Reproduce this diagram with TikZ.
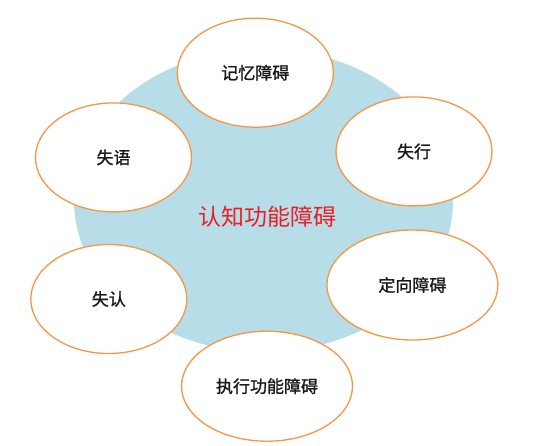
\documentclass[tikz,border=0pt]{standalone}
\usepackage{fontspec}
\newfontfamily\cjk[FakeBold=1.2]{Noto Sans CJK SC}
\newfontfamily\cjktitle{Noto Sans CJK SC}
\usepackage{tikz}
\usetikzlibrary{shapes}
\usepackage{xcolor}
\definecolor{light-blue}{RGB}{183,221,232}
\definecolor{ring-orange}{RGB}{247,150,70}
\definecolor{title-red}{RGB}{237,28,36}
\tikzstyle{deficit}=[ellipse, draw=ring-orange, line width=1.3pt, fill=white, inner sep=0pt, font=\cjk\fontsize{17}{20}\selectfont, text=black!90]
\tikzstyle{wide}=[minimum width=171pt, minimum height=110pt]
\tikzstyle{narrow}=[minimum width=156pt, minimum height=109pt]
\begin{document}
\begin{tikzpicture}[x=1pt,y=-1pt]
	\useasboundingbox (0,0) rectangle (553,445);
	\fill[light-blue] (263.5,200.5) ellipse (189.5pt and 151.5pt);
	\node[font=\cjktitle\fontsize{23}{26}\selectfont, text=title-red] (core) at (267.5,217) {认知功能障碍};
	\node[deficit,narrow] (memory) at (255.3,72.7) {记忆障碍};
	\node[deficit,narrow] (aphasia) at (113.5,157.4) {失语};
	\node[deficit,narrow] (apraxia) at (414,151.4) {失行};
	\node[deficit,narrow] (agnosia) at (108.8,299) {失认};
	\node[deficit,wide] (orient) at (412.4,285) {定向障碍};
	\node[deficit,wide] (exec) at (267,386.2) {执行功能障碍};
\end{tikzpicture}
\end{document}
